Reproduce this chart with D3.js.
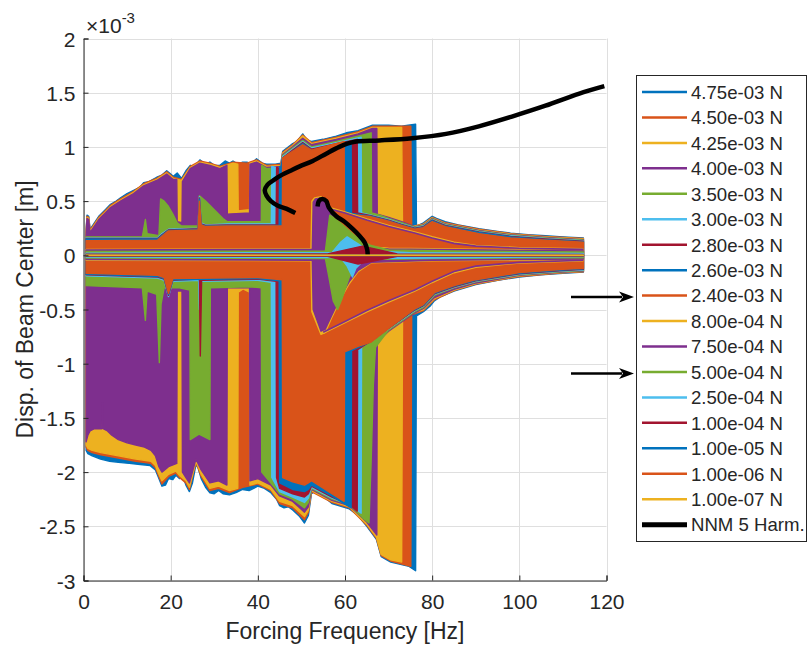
<!DOCTYPE html>
<html>
<head>
<meta charset="utf-8">
<script src="https://cdn.jsdelivr.net/npm/d3@7"></script>
<style>
  body { margin: 0; background: #fff; }
  svg { display: block; }
  text { font-family: "Liberation Sans", Arial, Helvetica, sans-serif; fill: #262626; }
</style>
</head>
<body>
<svg id="chart" width="809" height="645"></svg>
<script>
// ---- axis ticks ----
const xTicks = [0, 20, 40, 60, 80, 100, 120];
const yTicks = [-3, -2.5, -2, -1.5, -1, -0.5, 0, 0.5, 1, 1.5, 2];

// ---- forcing levels (legend order = draw order) ----
const forceLabels = ["4.75e-03 N", "4.50e-03 N", "4.25e-03 N", "4.00e-03 N", "3.50e-03 N",
  "3.00e-03 N", "2.80e-03 N", "2.60e-03 N", "2.40e-03 N", "8.00e-04 N", "7.50e-04 N",
  "5.00e-04 N", "2.50e-04 N", "1.00e-04 N", "1.00e-05 N", "1.00e-06 N", "1.00e-07 N"];
const nnmLabel = "NNM 5 Harm.";
const palette = ["#0072BD", "#D95319", "#EDB120", "#7E2F8E", "#77AC30", "#4DBEEE", "#A2142F"];

// ---- response envelopes: [frequency Hz, displacement x1e-3 m] ----
const up475 = [[0.6,0.22],[0.8,0.37],[1.2,0.36],[1.5,0.24],[2.5,0.3],[3.5,0.36],[5,0.42],[6.2,0.47],[7.5,0.5],[8.5,0.53],[10,0.57],[11.5,0.6],[13,0.63],[13.8,0.67],[15,0.68],[16.8,0.72],[18,0.74],[19.1,0.78],[20,0.75],[20.6,0.73],[21.5,0.76],[22.5,0.71],[23.5,0.78],[24.5,0.83],[25.5,0.82],[26.7,0.88],[28,0.84],[29,0.86],[30,0.83],[31.3,0.83],[32.5,0.87],[33.5,0.85],[34.3,0.87],[35.5,0.84],[36.5,0.86],[37.5,0.86],[38.5,0.84],[39.7,0.89],[41,0.85],[42,0.84],[44,0.84],[45.3,0.85],[45.7,0.96],[48,1.03],[49,1.05],[50.3,1.12],[51.3,1.06],[52.3,1.05],[55,1.07],[58,1.1],[60.3,1.13],[63,1.15],[66.3,1.2],[70,1.2],[73,1.19],[74.5,1.2],[76.2,1.21],[76.4,0.27],[78,0.3],[80,0.36],[81,0.34],[83,0.31],[86,0.28],[90.7,0.245],[95,0.22],[98,0.205],[102,0.19],[106,0.18],[110,0.17],[114.7,0.16]];
const lo475 = [[0.6,-1.8],[1,-1.83],[2,-1.85],[3.9,-1.88],[6,-1.9],[8,-1.91],[10.5,-1.92],[13,-1.93],[15.3,-1.94],[16.5,-1.98],[17.3,-2.06],[18,-2.13],[18.8,-2.12],[19.5,-2.06],[20.5,-2.07],[21.2,-2.03],[22,-2.06],[22.8,-2.04],[23.5,-2.12],[24.3,-2.18],[25,-2.1],[25.8,-1.93],[26.3,-1.96],[27,-2.06],[28,-2.14],[29,-2.19],[30,-2.2],[31,-2.17],[32,-2.2],[33.5,-2.21],[35,-2.19],[36.5,-2.16],[38,-2.17],[40,-2.13],[41.5,-2.15],[43,-2.19],[44.3,-2.25],[45,-2.31],[46,-2.33],[47,-2.32],[48,-2.35],[49.6,-2.41],[50.7,-2.47],[51.6,-2.4],[52.3,-2.2],[53.5,-2.17],[57,-2.29],[61,-2.34],[63,-2.4],[65,-2.5],[67.2,-2.62],[68.3,-2.78],[70.5,-2.83],[74.7,-2.87],[76.2,-2.91],[76.4,-0.56],[78,-0.52],[79.5,-0.47],[80.5,-0.42],[82,-0.38],[85,-0.33],[90,-0.27],[95,-0.23],[100,-0.2],[105,-0.18],[110,-0.165],[114.7,-0.155]];

const up450 = [[0.6,0.21],[0.8,0.36],[1.2,0.35],[1.5,0.23],[2.5,0.29],[3.5,0.35],[5,0.41],[6.2,0.46],[8.5,0.52],[11.5,0.59],[13.8,0.66],[16.8,0.71],[19.1,0.77],[20.6,0.72],[22.5,0.7],[24.5,0.82],[26.7,0.87],[29,0.85],[31.3,0.82],[34.3,0.86],[37.5,0.85],[39.7,0.88],[42,0.83],[45.3,0.84],[45.7,0.95],[48,1.02],[50.3,1.11],[52.3,1.04],[58,1.09],[63,1.14],[66.3,1.19],[75.1,1.19],[75.3,0.265],[78,0.29],[80,0.35],[83,0.3],[90.7,0.24],[98,0.2],[106,0.175],[114.7,0.155]];
const lo450 = [[0.6,-1.77],[1,-1.8],[2,-1.82],[4,-1.84],[8,-1.87],[12,-1.9],[15.5,-1.92],[16.5,-1.96],[17.3,-2.04],[18,-2.11],[19.5,-2.04],[21.2,-2.01],[22,-2.05],[23.5,-2.1],[24.3,-2.16],[25.8,-1.91],[27,-2.04],[29,-2.17],[31,-2.15],[33.5,-2.19],[36.5,-2.14],[40,-2.11],[43,-2.17],[45,-2.29],[48,-2.33],[50.7,-2.44],[51.6,-2.37],[52.3,-2.18],[57,-2.28],[61,-2.33],[65,-2.49],[67.2,-2.61],[68.3,-2.77],[70.5,-2.82],[75.1,-2.87],[75.3,-0.55],[78,-0.51],[80.5,-0.41],[85,-0.325],[90,-0.265],[100,-0.195],[110,-0.162],[114.7,-0.152]];

const up425 = [[0.6,0.2],[0.8,0.35],[1.2,0.34],[1.5,0.22],[2.5,0.28],[3.5,0.34],[5,0.4],[6.2,0.45],[8.5,0.51],[11.5,0.58],[13.8,0.65],[16.8,0.7],[19.1,0.76],[20.6,0.71],[22.5,0.69],[24.5,0.81],[26.7,0.86],[29,0.84],[31.3,0.81],[34.3,0.85],[35.4,0.84],[35.5,0.41],[38.1,0.42],[38.2,0.85],[39.7,0.87],[42,0.82],[45.3,0.83],[45.7,0.94],[48,1.01],[50.3,1.1],[52.3,1.03],[58,1.08],[63,1.13],[66.3,1.18],[73,1.18],[73.2,0.26],[76,0.27],[78,0.285],[80,0.345],[83,0.295],[90.7,0.235],[98,0.195],[106,0.17],[114.7,0.15]];
const lo425 = [[0.6,-1.75],[1,-1.78],[2,-1.8],[4,-1.82],[8,-1.85],[12,-1.88],[15.5,-1.9],[16.5,-1.94],[17.3,-2.02],[18,-2.08],[19.5,-2.02],[21.2,-1.99],[22,-2.03],[23.5,-2.08],[24.3,-2.14],[25.8,-1.9],[27,-2.02],[29,-2.15],[31,-2.13],[33.5,-2.17],[35.4,-2.15],[35.5,-0.34],[36.6,-0.31],[38.1,-0.34],[38.2,-2.12],[40,-2.1],[43,-2.16],[45,-2.27],[48,-2.31],[50.7,-2.41],[51.6,-2.35],[52.3,-2.17],[57,-2.27],[61,-2.32],[65,-2.48],[67.2,-2.6],[68.3,-2.76],[70.5,-2.81],[73,-2.83],[73.2,-0.54],[76,-0.53],[78,-0.5],[80.5,-0.4],[85,-0.32],[90,-0.26],[100,-0.19],[110,-0.158],[114.7,-0.148]];

const up400 = [[0.6,0.19],[0.8,0.34],[1.2,0.33],[1.5,0.21],[2.5,0.27],[3.5,0.33],[5,0.39],[6.2,0.44],[8.5,0.5],[11.5,0.57],[13.8,0.64],[16.8,0.69],[19.1,0.75],[20.6,0.7],[21.4,0.7],[21.5,0.31],[22.6,0.3],[22.7,0.68],[24.5,0.8],[26.7,0.85],[29,0.83],[31.3,0.8],[32.9,0.83],[33,0.38],[38.1,0.39],[38.2,0.84],[39.7,0.86],[42,0.81],[45.3,0.82],[45.7,0.93],[48,1.0],[50.3,1.08],[52.3,1.02],[58,1.07],[63,1.12],[66.3,1.17],[67.3,1.17],[67.4,0.38],[70,0.35],[73,0.31],[76,0.265],[78,0.28],[80,0.34],[83,0.29],[90.7,0.23],[98,0.19],[106,0.165],[114.7,0.145]];
const lo400 = [[0.6,-1.72],[1,-1.66],[1.5,-1.62],[2.5,-1.6],[3.5,-1.6],[4.2,-1.6],[4.35,-1.36],[4.5,-1.6],[5.5,-1.62],[6.5,-1.66],[8,-1.7],[10,-1.73],[12,-1.75],[14,-1.77],[15.5,-1.8],[16.5,-1.85],[17.3,-1.95],[18,-2.0],[19.5,-1.95],[21.4,-1.92],[21.5,-0.33],[22.6,-0.33],[22.7,-2.0],[23.5,-2.05],[24.3,-2.1],[25.8,-1.88],[27,-1.98],[29,-2.1],[31,-2.08],[32.9,-2.12],[33,-0.3],[38.1,-0.3],[38.2,-2.08],[40,-2.06],[43,-2.12],[45,-2.22],[48,-2.27],[50.7,-2.37],[51.6,-2.32],[52.3,-2.16],[57,-2.26],[61,-2.31],[65,-2.46],[67.3,-2.58],[67.4,-0.8],[70,-0.7],[76,-0.53],[78,-0.49],[80.5,-0.39],[85,-0.315],[90,-0.255],[100,-0.185],[110,-0.155],[114.7,-0.145]];

const up350 = [[0.6,0.17],[13.5,0.17],[14.2,0.33],[14.6,0.2],[17.3,0.18],[17.7,0.52],[18.5,0.5],[19.5,0.45],[20.5,0.38],[21.5,0.3],[22.5,0.27],[26.3,0.27],[26.6,0.55],[28,0.5],[30,0.42],[32,0.34],[33,0.31],[40.8,0.31],[40.9,0.83],[42,0.8],[45.3,0.81],[45.7,0.92],[48,0.99],[50.3,1.06],[52.3,1.0],[58,1.05],[63,1.1],[66,1.13],[66.1,0.39],[68,0.37],[70,0.34],[73,0.3],[76,0.26],[78,0.275],[80,0.335],[83,0.285],[90.7,0.225],[98,0.185],[106,0.16],[114.7,0.14]];
const lo350 = [[0.6,-0.28],[13.5,-0.3],[14.2,-0.6],[14.6,-0.33],[16.8,-0.36],[17.4,-0.99],[17.8,-0.45],[18.5,-0.3],[22,-0.3],[24.4,-0.32],[24.5,-1.7],[26.5,-1.65],[29,-1.7],[29.1,-0.3],[38,-0.29],[40.8,-0.3],[40.9,-2.0],[43,-2.1],[45,-2.2],[48,-2.25],[50.7,-2.33],[51.6,-2.28],[52.3,-2.15],[57,-2.25],[61,-2.3],[64,-2.42],[65.5,-2.47],[66,-1.9],[66.5,-1.2],[67,-0.85],[70,-0.69],[76,-0.52],[78,-0.48],[80.5,-0.37],[85,-0.3],[90,-0.245],[100,-0.18],[110,-0.15],[114.7,-0.14]];

const up300 = [[0.6,0.16],[17,0.16],[18,0.2],[19.5,0.24],[26.3,0.25],[26.6,0.54],[27,0.3],[28,0.28],[33,0.29],[43.1,0.29],[43.2,0.82],[45.3,0.8],[45.7,0.91],[48,0.98],[50.3,1.05],[52.3,0.99],[58,1.04],[63.7,1.09],[63.8,0.39],[66,0.37],[70,0.33],[73,0.29],[76,0.255],[78,0.27],[80,0.33],[83,0.28],[90.7,0.22],[98,0.18],[106,0.155],[114.7,0.135]];
const lo300 = [[0.6,-0.19],[17,-0.21],[18.5,-0.23],[19.5,-0.38],[20.5,-0.24],[26.4,-0.23],[26.6,-0.5],[27,-0.24],[40,-0.23],[43.1,-0.25],[43.2,-2.05],[45,-2.18],[48,-2.23],[50.7,-2.28],[51.6,-2.24],[52.3,-2.14],[57,-2.24],[61,-2.3],[63.7,-2.38],[63.8,-0.85],[66,-0.78],[70,-0.68],[76,-0.51],[78,-0.47],[80.5,-0.36],[85,-0.295],[90,-0.24],[100,-0.175],[110,-0.145],[114.7,-0.135]];

const up280 = [[0.6,0.155],[17,0.155],[18,0.19],[19.5,0.235],[26.3,0.245],[26.6,0.53],[27,0.29],[28,0.275],[33,0.28],[44.2,0.28],[44.3,0.81],[45.3,0.8],[45.7,0.9],[48,0.97],[50.3,1.04],[52.3,0.98],[58,1.03],[62.8,1.07],[62.9,0.39],[66,0.365],[70,0.325],[73,0.285],[76,0.25],[78,0.265],[80,0.325],[83,0.275],[90.7,0.215],[98,0.175],[106,0.15],[114.7,0.13]];
const lo280 = [[0.6,-0.18],[17,-0.2],[18.5,-0.22],[19.5,-0.37],[20.5,-0.23],[26.6,-0.22],[26.8,-0.93],[27.1,-0.23],[40,-0.22],[44.2,-0.24],[44.3,-2.05],[45,-2.15],[48,-2.2],[50.7,-2.23],[51.6,-2.2],[52.3,-2.13],[57,-2.23],[61,-2.3],[62.8,-2.36],[62.9,-0.87],[66,-0.79],[70,-0.675],[76,-0.505],[78,-0.465],[80.5,-0.355],[85,-0.29],[90,-0.235],[100,-0.17],[110,-0.14],[114.7,-0.13]];

const up260 = [[0.6,0.15],[17,0.15],[18,0.185],[19.5,0.23],[26.3,0.24],[26.6,0.52],[27,0.285],[28,0.27],[33,0.275],[44.9,0.275],[45,0.82],[45.3,0.8],[45.7,0.9],[48,0.96],[50.3,1.03],[52.3,0.97],[58,1.02],[61.4,1.05],[61.5,0.385],[66,0.36],[70,0.32],[73,0.28],[76,0.245],[78,0.26],[80,0.32],[83,0.27],[90.7,0.21],[98,0.17],[106,0.145],[114.7,0.125]];
const lo260 = [[0.6,-0.175],[17,-0.195],[18.5,-0.215],[19.5,-0.36],[20.5,-0.225],[40,-0.215],[44.9,-0.235],[45,-2.1],[48,-2.16],[50.7,-2.18],[51.6,-2.16],[52.3,-2.12],[57,-2.22],[61.4,-2.33],[61.5,-0.88],[66,-0.795],[70,-0.67],[76,-0.5],[78,-0.46],[80.5,-0.35],[85,-0.285],[90,-0.23],[100,-0.165],[110,-0.135],[114.7,-0.125]];

const up240 = [[0.6,0.135],[17,0.14],[18,0.175],[19.5,0.225],[26.3,0.235],[26.6,0.5],[27,0.28],[28,0.265],[33,0.27],[45.6,0.27],[45.7,0.9],[48,0.96],[50.3,1.02],[52.3,0.97],[56,1.01],[59.8,1.05],[59.9,0.38],[63,0.37],[66,0.355],[70,0.315],[73,0.275],[76,0.24],[78,0.255],[80,0.31],[83,0.265],[90.7,0.2],[98,0.16],[106,0.14],[114.7,0.12]];
const lo240 = [[0.6,-0.165],[17,-0.185],[18.5,-0.205],[19.5,-0.35],[20.5,-0.215],[40,-0.205],[45.6,-0.225],[45.7,-2.05],[48,-2.09],[50.7,-2.12],[51.6,-2.1],[52.3,-2.08],[57,-2.2],[59.8,-2.27],[59.9,-0.89],[63,-0.84],[66,-0.8],[70,-0.675],[76,-0.495],[78,-0.455],[80.5,-0.345],[85,-0.28],[90,-0.225],[100,-0.16],[110,-0.13],[114.7,-0.12]];

const up080 = [[0.6,0.055],[52.2,0.06],[52.4,0.5],[53,0.53],[54.5,0.54],[55.8,0.5],[56.6,0.42],[58,0.3],[60,0.2],[62,0.13],[65,0.08],[70,0.065],[80,0.06],[100,0.05],[114.7,0.045]];
const lo080 = [[0.6,-0.045],[52.2,-0.05],[52.4,-0.52],[54.5,-0.73],[55.5,-0.71],[57,-0.57],[59,-0.4],[61,-0.26],[63,-0.15],[66,-0.07],[80,-0.05],[114.7,-0.04]];
const up075 = [[0.6,0.05],[52.5,0.055],[52.7,0.49],[53.2,0.52],[54.5,0.53],[55.7,0.49],[56.5,0.41],[58,0.29],[60,0.19],[62,0.12],[65,0.07],[70,0.058],[80,0.055],[100,0.045],[114.7,0.04]];
const lo075 = [[0.6,-0.04],[52.5,-0.045],[52.7,-0.5],[54.5,-0.7],[55.5,-0.68],[57,-0.55],[59,-0.38],[61,-0.24],[63,-0.14],[66,-0.065],[80,-0.045],[114.7,-0.035]];
const up050 = [[0.6,0.035],[55.5,0.04],[56.5,0.37],[58,0.33],[60,0.26],[62,0.19],[64,0.13],[66,0.09],[70,0.05],[85,0.04],[114.7,0.03]];
const lo050 = [[0.6,-0.025],[55.5,-0.03],[56.3,-0.2],[57.3,-0.42],[58.3,-0.5],[59.3,-0.4],[61,-0.2],[63,-0.08],[66,-0.04],[80,-0.03],[114.7,-0.022]];
const up025 = [[0.6,0.02],[57,0.025],[59,0.12],[60.5,0.17],[62,0.13],[64,0.08],[66,0.04],[75,0.025],[114.7,0.018]];
const lo025 = [[0.6,-0.015],[59,-0.02],[60.5,-0.1],[61.7,-0.2],[62.5,-0.12],[64,-0.06],[67,-0.03],[114.7,-0.012]];
const up010 = [[0.6,0.01],[56,0.012],[64,0.085],[72,0.012],[114.7,0.008]];
const lo010 = [[0.6,-0.008],[56,-0.01],[63,-0.08],[72,-0.01],[114.7,-0.006]];
const up001 = [[0.6,0.004],[114.7,0.004]];
const lo001 = [[0.6,-0.003],[114.7,-0.003]];
const up0001 = [[0.6,0.002],[114.7,0.002]];
const lo0001 = [[0.6,-0.002],[114.7,-0.002]];
const up00001 = [[0.6,0.0005],[114.7,0.0005]];
const lo00001 = [[0.6,-0.0005],[114.7,-0.0005]];

// upper / lower branches of the 8.00e-04 and 7.50e-04 N responses after the jump
const br080Up = [[56.4,0.44],[60,0.4],[65,0.335],[70,0.275],[76,0.215],[80,0.17],[85,0.12],[90,0.09],[100,0.07],[114.7,0.06]];
const br075Up = [[56.4,0.43],[60,0.39],[65,0.325],[70,0.265],[76,0.205],[80,0.16],[85,0.11],[90,0.085],[100,0.065],[114.7,0.055]];
const br080Lo = [[55,-0.72],[60,-0.62],[65,-0.52],[70,-0.43],[76,-0.33],[80,-0.25],[85,-0.16],[90,-0.11],[100,-0.07],[114.7,-0.05]];
const br075Lo = [[55,-0.71],[60,-0.61],[65,-0.51],[70,-0.42],[76,-0.32],[80,-0.24],[85,-0.15],[90,-0.1],[100,-0.065],[114.7,-0.045]];

// ---- NNM backbone (5 harmonics), two branches ----
const nnmMain = [[48.6,0.39],[46.5,0.43],[44.5,0.46],[43,0.5],[42,0.55],[41.6,0.6],[42.2,0.65],[43.5,0.69],[45,0.73],[47.5,0.78],[49.6,0.82],[52.6,0.87],[55.8,0.94],[58.7,1.0],[60.5,1.03],[62.6,1.05],[67.9,1.06],[75.4,1.08],[83.2,1.12],[90.7,1.19],[98.3,1.28],[106,1.38],[113.6,1.49],[119.5,1.56]];
const nnmBranch = [[53.7,0.45],[54.0,0.5],[54.8,0.52],[55.7,0.5],[56.3,0.44],[58,0.36],[59.9,0.31],[61.7,0.245],[63.3,0.18],[64.5,0.12],[65.1,0.05],[65.2,0.01]];

// legend rows that carry an arrow
const arrowRows = [8, 11];

const envelopes = [
  [up475, lo475], [up450, lo450], [up425, lo425], [up400, lo400], [up350, lo350],
  [up300, lo300], [up280, lo280], [up260, lo260], [up240, lo240], [up080, lo080],
  [up075, lo075], [up050, lo050], [up025, lo025], [up010, lo010], [up001, lo001],
  [up0001, lo0001], [up00001, lo00001]
];
const branches = { 9: [br080Up, br080Lo], 10: [br075Up, br075Lo] };
const series = forceLabels.map((label, i) => ({
  label, color: palette[i % palette.length], up: envelopes[i][0], lo: envelopes[i][1],
  extra: branches[i] || []
}));

// ---- layout ----
const W = 809, H = 645;
const plot = { left: 83.5, right: 606.5, top: 38.5, bottom: 580.5 };
const x = d3.scaleLinear().domain([0, 120]).range([plot.left, plot.right]);
const y = d3.scaleLinear().domain([-3, 2]).range([plot.bottom, plot.top]);

const svg = d3.select("#chart");
svg.append("rect").attr("width", W).attr("height", H).attr("fill", "#fff");

svg.append("defs").append("clipPath").attr("id", "plotClip")
  .append("rect").attr("x", plot.left).attr("y", plot.top)
  .attr("width", plot.right - plot.left).attr("height", plot.bottom - plot.top);

// grid
const grid = svg.append("g").attr("stroke", "#dfdfdf").attr("stroke-width", 1);
grid.selectAll("line.gx").data(xTicks).join("line")
  .attr("x1", d => Math.round(x(d)) + 0.5).attr("x2", d => Math.round(x(d)) + 0.5)
  .attr("y1", plot.top).attr("y2", plot.bottom);
grid.selectAll("line.gy").data(yTicks).join("line")
  .attr("y1", d => Math.round(y(d)) + 0.5).attr("y2", d => Math.round(y(d)) + 0.5)
  .attr("x1", plot.left).attr("x2", plot.right);

// response bands, each drawn over the previous forcing level
const line = d3.line().x(d => x(d[0])).y(d => y(d[1]));
const data = svg.append("g").attr("clip-path", "url(#plotClip)");
series.forEach(s => {
  const ring = s.up.concat(s.lo.slice().reverse());
  data.append("path")
    .attr("d", line(ring) + "Z")
    .attr("fill", s.color)
    .attr("stroke", s.color)
    .attr("stroke-width", 1.4)
    .attr("stroke-linejoin", "round");
  s.extra.forEach(b => {
    data.append("path").attr("d", line(b)).attr("fill", "none")
      .attr("stroke", s.color).attr("stroke-width", 1.6);
  });
});

// NNM backbone
const smooth = d3.line().x(d => x(d[0])).y(d => y(d[1])).curve(d3.curveCatmullRom.alpha(0.5));
[nnmMain, nnmBranch].forEach(b => {
  data.append("path").attr("d", smooth(b)).attr("fill", "none")
    .attr("stroke", "#000").attr("stroke-width", 4.5).attr("stroke-linecap", "butt")
    .attr("stroke-linejoin", "round");
});

// axes
const xAxis = d3.axisBottom(x).tickValues(xTicks).tickSize(-5).tickPadding(14).tickFormat(d => String(d));
const yAxis = d3.axisLeft(y).tickValues(yTicks).tickSize(-5).tickPadding(8).tickFormat(d => String(d));
const gx = svg.append("g").attr("transform", `translate(0,${plot.bottom})`).call(xAxis);
const gy = svg.append("g").attr("transform", `translate(${plot.left},0)`).call(yAxis);
[gx, gy].forEach(g => {
  g.select(".domain").attr("stroke", "#262626").attr("stroke-width", 1);
  g.selectAll(".tick line").attr("stroke", "#262626");
  g.selectAll(".tick text").attr("fill", "#262626").attr("font-size", 21)
    .attr("font-family", '"Liberation Sans", Arial, Helvetica, sans-serif');
});
gy.selectAll(".tick text").attr("dy", "0.36em");
gx.selectAll(".tick text").attr("dy", "0.71em");

// exponent marker
const ex = svg.append("text").attr("x", 86).attr("y", 33).attr("font-size", 21);
ex.append("tspan").text("\u00d710");
ex.append("tspan").attr("font-size", 15).attr("dy", -10).text("-3");

// axis labels
svg.append("text").attr("x", (plot.left + plot.right) / 2).attr("y", 639)
  .attr("text-anchor", "middle").attr("font-size", 23).text("Forcing Frequency [Hz]");
svg.append("text").attr("transform", `translate(33,${(plot.top + plot.bottom) / 2}) rotate(-90)`)
  .attr("text-anchor", "middle").attr("font-size", 23).text("Disp. of Beam Center [m]");

// legend
const lg = { x: 636.5, y: 75.5, w: 170, h: 466, row0: 92, step: 25.45 };
const legend = svg.append("g");
legend.append("rect").attr("x", lg.x).attr("y", lg.y).attr("width", lg.w).attr("height", lg.h)
  .attr("fill", "#fff").attr("stroke", "#262626").attr("stroke-width", 1);
const entries = series.map(s => ({ label: s.label, color: s.color, w: 2.5 }))
  .concat([{ label: nnmLabel, color: "#000", w: 5 }]);
entries.forEach((e, i) => {
  const ry = lg.row0 + i * lg.step;
  legend.append("line").attr("x1", 642).attr("x2", 687).attr("y1", ry).attr("y2", ry)
    .attr("stroke", e.color).attr("stroke-width", e.w);
  legend.append("text").attr("x", 691).attr("y", ry + 6.8).attr("font-size", 18.6).text(e.label);
});

// arrows pointing at selected legend entries
arrowRows.forEach(r => {
  const ry = lg.row0 + r * lg.step + 1.5;
  svg.append("line").attr("x1", 571).attr("x2", 622).attr("y1", ry).attr("y2", ry)
    .attr("stroke", "#000").attr("stroke-width", 2.5);
  svg.append("path").attr("d", `M634,${ry} L619,${ry - 5.5} L623,${ry} L619,${ry + 5.5} Z`)
    .attr("fill", "#000");
});
</script>
</body>
</html>
